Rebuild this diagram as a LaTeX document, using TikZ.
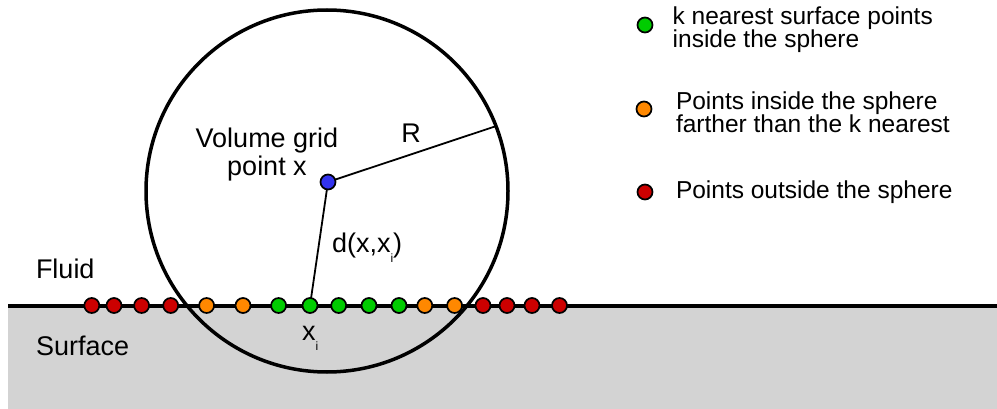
\documentclass[tikz,border=0pt]{standalone}
\usepackage{fontspec}
\setmainfont{Liberation Sans}
\definecolor{SurfaceFill}{HTML}{D3D3D3}
\definecolor{NearGreen}{HTML}{00CC00}
\definecolor{FarOrange}{HTML}{FF8800}
\definecolor{OutRed}{HTML}{CC0000}
\definecolor{GridBlue}{HTML}{3333EE}
\tikzset{
    sphere/diagram/.style={
        x=1pt, y=-1pt,
        line cap=round,
        line join=round,
        every node/.style={inner sep=0pt, outer sep=0pt}
    },
    sphere/surface/.style={draw=black, line width=4pt, line cap=butt},
    sphere/boundary/.style={
        circle, draw=black, line width=3.5pt, minimum size=362pt
    },
    sphere/radius/.style={draw=black, line width=1.8pt},
    sphere/point/.style={
        circle, draw=black, line width=1.7pt, minimum size=15pt
    },
    sphere/label/.style={font=\fontsize{27}{28}\selectfont, text=black},
    sphere/legend/.style={
        font=\fontsize{24.5}{23.5}\selectfont, align=left, text=black
    }
}
\newcommand\lowidx[1]{\raisebox{-0.4em}{\fontsize{12}{12}\selectfont #1}}

\begin{document}
\begin{tikzpicture}[sphere/diagram]
    \useasboundingbox (0,0) rectangle (997,409);
    % solid below the interface
    \fill[SurfaceFill] (8,305) rectangle (997,409);
    \draw[sphere/surface] (8,305.5) -- (997,305.5);
    % sample points along the surface
    \foreach \px/\col [count=\n] in {91.8/OutRed, 114/OutRed,
        141.6/OutRed, 170.7/OutRed, 206.6/FarOrange, 243/FarOrange,
        278.6/NearGreen, 310/NearGreen, 338.7/NearGreen, 369/NearGreen,
        399/NearGreen, 424.8/FarOrange, 454.6/FarOrange, 483/OutRed,
        507/OutRed, 532/OutRed, 559.5/OutRed}
        \node[sphere/point, fill=\col] (s\n) at (\px,305.5) {};
    \node[sphere/point, fill=GridBlue] (vgp) at (328,182) {};
    \node[sphere/boundary] (sphere) at (327,191) {};
    \draw[sphere/radius] (vgp) -- (sphere.21);
    \draw[sphere/radius] (vgp) -- (s8);
    \node[sphere/label, align=center, anchor=north] (vgplabel)
        at (267,127.5) {Volume grid\\point x};
    \node[sphere/label, anchor=base] (rlabel) at (411,143) {R};
    \node[sphere/label, anchor=base west] (dlabel)
        at (332,252) {d(x,x\lowidx{i})};
    \node[sphere/label, anchor=base west] (xilabel)
        at (302,340) {x\lowidx{i}};
    \node[sphere/label, anchor=base west] (fluid) at (36,278) {Fluid};
    \node[sphere/label, anchor=base west] (surface) at (36,355) {Surface};
    % legend
    \node[sphere/point, fill=NearGreen] (keynear) at (645,25) {};
    \node[sphere/legend, anchor=north west] (txtnear)
        at (672.7,6.5) {k nearest surface points\\inside the sphere};
    \node[sphere/point, fill=FarOrange] (keyfar) at (644,109) {};
    \node[sphere/legend, anchor=north west] (txtfar)
        at (676,91.5) {Points inside the sphere\\farther than the k nearest};
    \node[sphere/point, fill=OutRed] (keyout) at (645,192) {};
    \node[sphere/legend, anchor=base west] (txtout)
        at (676,199) {Points outside the sphere};
\end{tikzpicture}
\end{document}
